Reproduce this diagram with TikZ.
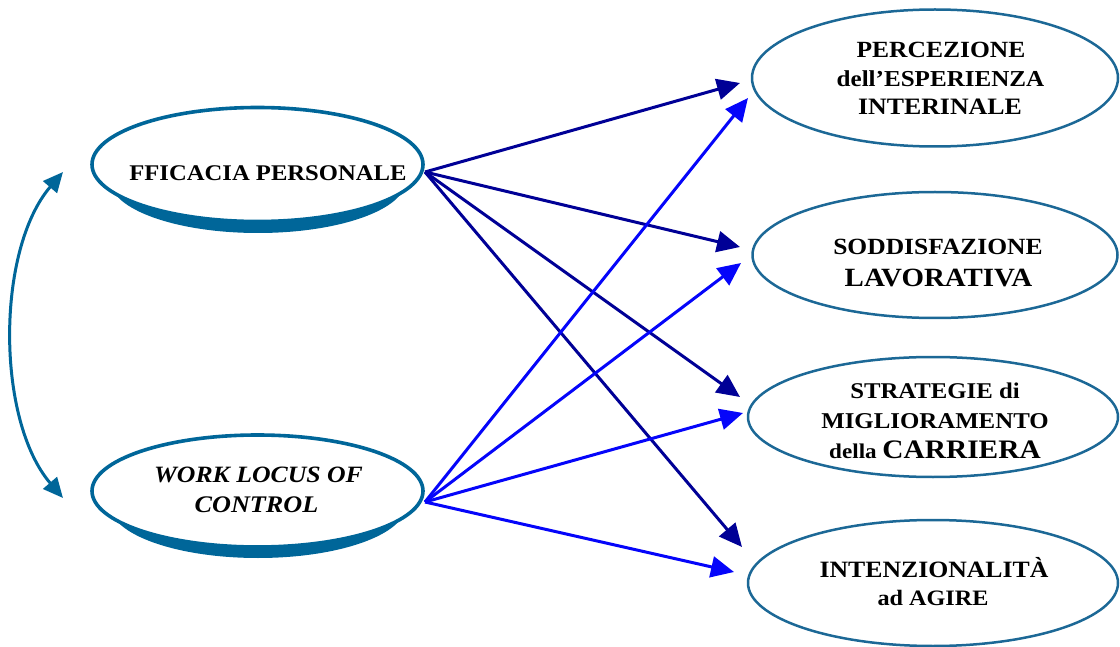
\documentclass[tikz,border=0pt]{standalone}
\usepackage{fontspec}
\setmainfont{Liberation Serif}
\newfontfamily\gar[FakeStretch=1.1]{Liberation Serif}
\usetikzlibrary{arrows.meta,shapes.geometric}
\definecolor{teal1}{RGB}{0,102,153}
\definecolor{teal2}{RGB}{28,104,150}
\definecolor{navyar}{RGB}{0,0,150}
\definecolor{bluear}{RGB}{5,5,250}
\tikzset{
  leftell/.style={ellipse, draw=teal1, line width=3.6pt, fill=white, minimum width=331pt, minimum height=114pt, inner sep=0pt},
  shadowell/.style={ellipse, fill=teal1, minimum width=296pt, minimum height=106pt, inner sep=0pt},
  rightell/.style={ellipse, draw=teal2, line width=2.5pt, fill=white, inner sep=0pt},
  txt/.style={inner sep=0pt, anchor=base, text=black},
  darkarrow/.style={draw=navyar, line width=3pt, -{Triangle[length=23pt,width=21pt]}},
  lightarrow/.style={draw=bluear, line width=3pt, -{Triangle[length=23pt,width=21pt]}},
  curvearrow/.style={draw=teal1, line width=3pt, {Triangle[length=20pt,width=18pt]}-{Triangle[length=20pt,width=18pt]}}
}
\newcommand{\fsz}[1]{\gar\bfseries\fontsize{#1}{#1}\selectfont}
\begin{document}
\begin{tikzpicture}[x=1pt,y=-1pt]
\useasboundingbox (0,0) rectangle (1120,647);

% left ellipses
\node[shadowell] (fpsh) at (258,180) {};
\node[leftell] (fp) at (257.5,164.5) {};
\node[shadowell] (wlsh) at (258,505) {};
\node[leftell, minimum height=112pt] (wl) at (257.5,491) {};

% right ellipses
\node[rightell, minimum width=366pt, minimum height=137pt] (per) at (935,78) {};
\node[rightell, minimum width=365pt, minimum height=126pt] (sod) at (935,255) {};
\node[rightell, minimum width=370pt, minimum height=120pt] (str) at (933,417) {};
\node[rightell, minimum width=370pt, minimum height=126pt] (int) at (933,583) {};

% texts
\node[txt, font=\fsz{22.4}] (fpt) at (268,181) {FFICACIA PERSONALE};
\node[txt, font=\fsz{23.4}\itshape] (wlt1) at (258.5,482) {WORK LOCUS OF};
\node[txt, font=\fsz{23.8}\itshape] (wlt2) at (256.5,512) {CONTROL};

\node[txt, font=\fsz{23.2}] (pert1) at (941,58) {PERCEZIONE};
\node[txt, font=\fsz{22.8}] (pert2) at (940.5,87) {dell’ESPERIENZA};
\node[txt, font=\fsz{23.5}] (pert3) at (940,115) {INTERINALE};

\node[txt, font=\fsz{23.2}] (sodt1) at (938,255) {SODDISFAZIONE};
\node[txt, font=\fsz{26.3}] (sodt2) at (938.5,287) {LAVORATIVA};

\node[txt, font=\fsz{22.5}] (strt1) at (935,398) {STRATEGIE di};
\node[txt, font=\fsz{22.6}] (strt2) at (935,428) {MIGLIORAMENTO};
\node[txt, font=\fsz{21}] (strt3) at (935,458) {della {\fsz{26.7}CARRIERA}};

\node[txt, font=\fsz{23.4}] (intt1) at (934,577) {INTENZIONALITÀ};
\node[txt, font=\fsz{22}] (intt2) at (933,605) {ad AGIRE};

% connector end points
\coordinate (fpout) at (425,172);
\coordinate (wlout) at (425,502);
\coordinate (perA) at (740,83);
\coordinate (perB) at (748,98);
\coordinate (sodA) at (740,247);
\coordinate (sodB) at (741,263);
\coordinate (strA) at (740,397);
\coordinate (strB) at (743,413);
\coordinate (intA) at (742,547);
\coordinate (intB) at (734,572);
\coordinate (ctop) at (63,172);
\coordinate (cbot) at (63,498);

% arrows
\draw[darkarrow] (fpout) -- (perA);
\draw[darkarrow] (fpout) -- (sodA);
\draw[darkarrow] (fpout) -- (strA);
\draw[darkarrow] (fpout) -- (intA);
\draw[lightarrow] (wlout) -- (perB);
\draw[lightarrow] (wlout) -- (sodB);
\draw[lightarrow] (wlout) -- (strB);
\draw[lightarrow] (wlout) -- (intB);

\draw[curvearrow] (cbot) .. controls (-4,420) and (-4,250) .. (ctop);
\end{tikzpicture}
\end{document}
